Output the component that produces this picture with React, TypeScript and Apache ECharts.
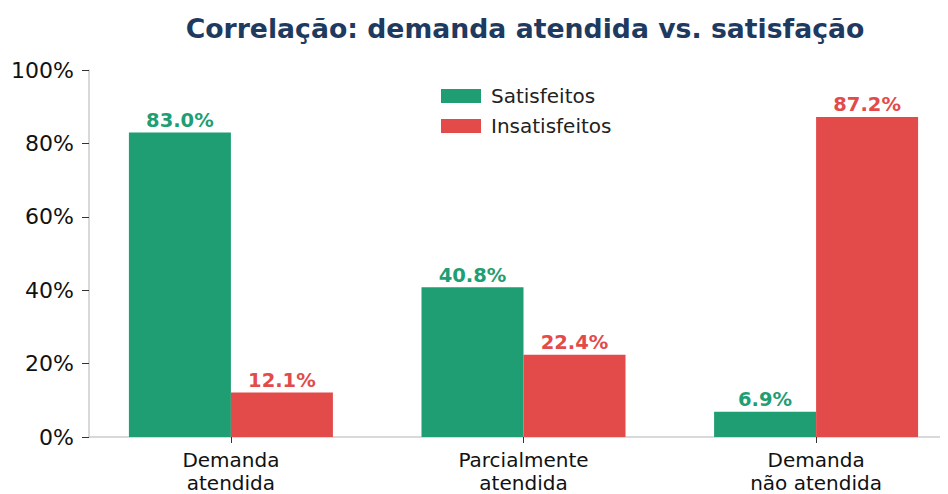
import React, { useEffect, useRef } from "react";
import * as echarts from "echarts";

const categories = ["Demanda\natendida", "Parcialmente\natendida", "Demanda\nnão atendida"];
const satisfeitos = [83.0, 40.8, 6.9];
const insatisfeitos = [12.1, 22.4, 87.2];
const seriesNames = ["Satisfeitos", "Insatisfeitos"];
const titleText = "Correlação: demanda atendida vs. satisfação";

const GREEN = "#1f9e74";
const RED = "#e34b4b";
const FONT = "DejaVu Sans";

export default function App() {
  const ref = useRef<HTMLDivElement>(null);
  useEffect(() => {
    if (!ref.current) return;
    const chart = echarts.init(ref.current, null, { renderer: "svg" });
    const labelFmt = (p: any) => p.value[1].toFixed(1) + "%";
    const idx = categories.map((_, i) => i);
    chart.setOption({
      animation: false,
      textStyle: { fontFamily: FONT },
      title: {
        text: titleText,
        left: 520,
        textAlign: "center",
        top: 10,
        textStyle: { fontFamily: FONT, fontSize: 26.7, fontWeight: "bold", color: "#1f3a5f" },
      },
      legend: {
        orient: "vertical",
        left: 436,
        top: 81,
        itemWidth: 40,
        itemHeight: 14,
        itemGap: 10,
        icon: "rect",
        textStyle: { fontFamily: FONT, fontSize: 20, color: "#222", padding: [0, 0, 0, 5] },
        data: seriesNames,
      },
      grid: { left: 89, width: 869, top: 70, height: 370, containLabel: false },
      xAxis: {
        type: "value",
        min: -0.485,
        max: 2.485,
        splitLine: { show: false },
        axisLine: { show: true, onZero: false, lineStyle: { color: "#cccccc", width: 1.5 } },
        axisTick: { show: true, customValues: idx, length: 6, lineStyle: { color: "#333" } },
        axisLabel: {
          customValues: idx,
          formatter: (v: number) => categories[Math.round(v)] ?? "",
          fontFamily: FONT,
          fontSize: 20,
          color: "#111",
          lineHeight: 23,
          margin: 11,
        },
      },
      yAxis: {
        type: "value",
        min: 0,
        max: 100,
        interval: 20,
        axisLine: { show: true, onZero: false, lineStyle: { color: "#cccccc", width: 1.5 } },
        axisTick: { show: true, length: 7, lineStyle: { color: "#333" } },
        splitLine: { show: false },
        axisLabel: { fontFamily: FONT, fontSize: 22, color: "#111", formatter: "{value}%", margin: 15 },
      },
      series: [
        {
          name: seriesNames[0],
          type: "bar",
          data: satisfeitos.map((v, i) => [i, v]),
          barWidth: 102,
          barGap: "0%",
          itemStyle: { color: GREEN },
          label: {
            show: true,
            position: "top",
            distance: 2,
            formatter: labelFmt,
            fontFamily: FONT,
            fontSize: 19.5,
            fontWeight: "bold",
            color: GREEN,
          },
        },
        {
          name: seriesNames[1],
          type: "bar",
          data: insatisfeitos.map((v, i) => [i, v]),
          barWidth: 102,
          barGap: "0%",
          itemStyle: { color: RED },
          label: {
            show: true,
            position: "top",
            distance: 2,
            formatter: labelFmt,
            fontFamily: FONT,
            fontSize: 19.5,
            fontWeight: "bold",
            color: RED,
          },
        },
      ],
    });
    return () => chart.dispose();
  }, []);
  return (
    <div style={{ width: 948, height: 494, overflow: "hidden", marginLeft: -8, marginTop: -8 }}>
      <div ref={ref} style={{ width: 962, height: 494 }} />
    </div>
  );
}
